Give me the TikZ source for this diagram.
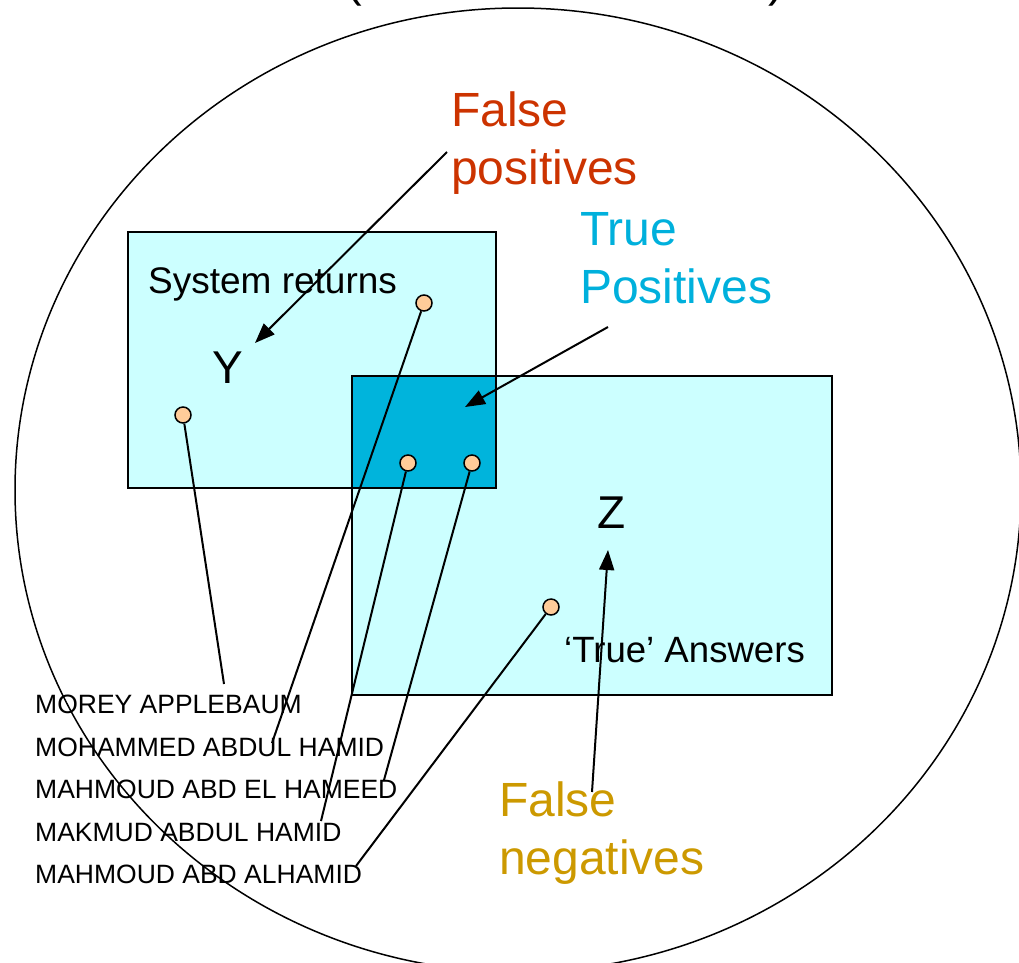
\documentclass[tikz,border=0pt]{standalone}
\usepackage{fontspec}
\setmainfont{Liberation Sans}
\usepackage{xcolor}
\definecolor{fpred}{RGB}{204,51,0}
\definecolor{tpblue}{RGB}{0,176,220}
\definecolor{fngold}{RGB}{204,153,0}
\definecolor{boxlight}{RGB}{204,255,255}
\definecolor{boxdark}{RGB}{0,180,220}
\definecolor{hitfill}{RGB}{255,204,153}
\usetikzlibrary{arrows.meta, positioning}

\begin{document}
\begin{tikzpicture}[x=1pt, y=-1pt,
  setbox/.style={draw=black, line width=2pt},
  hit/.style={circle, draw=black, line width=1.5pt, fill=hitfill,
              minimum size=16pt, inner sep=0pt},
  biglabel/.style={inner sep=0pt, anchor=north west, align=left,
                   font=\fontsize{48}{58}\selectfont, text=#1},
  boxtext/.style={inner sep=0pt, anchor=base west, font=\fontsize{#1}{#1}\selectfont},
  record/.style={inner sep=0pt, anchor=base west, font=\fontsize{26.5}{30}\selectfont},
  wire/.style={draw=black, line width=2pt},
  pointer/.style={-{Triangle[length=20pt, width=15pt]}, line width=2pt, draw=black}
]
\useasboundingbox (0,0) rectangle (1019,962);

% Universe of names
\draw[line width=1.5pt] (518,490) ellipse [x radius=503pt, y radius=482pt];
\node[boxtext=47] (lpar) at (346,-4) {(};
\node[boxtext=47] (rpar) at (768,-4) {)};

% Sets Y and Z
\fill[boxlight] (128,232) rectangle (496,488);
\fill[boxlight] (352,376) rectangle (832,695);
\fill[boxdark] (352,376) rectangle (496,488);
\draw[setbox] (128,232) rectangle (496,488);
\draw[setbox] (352,376) rectangle (832,695);

\node[boxtext=37] (sysret) at (148,293) {System returns};
\node[boxtext=46] (ylab) at (212,383) {Y};
\node[boxtext=46] (zlab) at (597,528) {Z};
\node[boxtext=36.6] (trueans) at (564,662) {‘True’ Answers};

% Labels
\node[biglabel=fpred] (fplab) at (451,92) {False\\positives};
\node[biglabel=tpblue] (tplab) at (580,212) {True\\Positives};
\node[biglabel=fngold] (fnlab) at (499,782) {False\\negatives};

% Returned records
\node[record] (rec1) at (35,713) {MOREY APPLEBAUM};
\node[record] (rec2) at (35,756) {MOHAMMED ABDUL HAMID};
\node[record] (rec3) at (35,798) {MAHMOUD ABD EL HAMEED};
\node[record] (rec4) at (35,841) {MAKMUD ABDUL HAMID};
\node[record] (rec5) at (35,883) {MAHMOUD ABD ALHAMID};

% Hits
\node[hit] (hit1) at (183,415) {};
\node[hit] (hit2) at (424,303) {};
\node[hit] (hit3) at (408,463) {};
\node[hit] (hit4) at (472,463) {};
\node[hit] (hit5) at (551,607) {};

\coordinate (end1) at (224,684);
\coordinate (end2) at (272,743);
\coordinate (end3) at (384,780);
\coordinate (end4) at (321,821);
\coordinate (end5) at (356,866);

\draw[wire] (hit1) -- (end1);
\draw[wire] (hit2) -- (end2);
\draw[wire] (hit4) -- (end3);
\draw[wire] (hit3) -- (end4);
\draw[wire] (hit5) -- (end5);

% Arrows
\coordinate (fpstart) at (447,152);
\coordinate (fptip) at (255,343);
\coordinate (tpstart) at (608,327);
\coordinate (tptip) at (465,407);
\coordinate (fnstart) at (592,792);
\coordinate (fntip) at (608,550);
\draw[pointer] (fpstart) -- (fptip);
\draw[pointer] (tpstart) -- (tptip);
\draw[pointer] (fnstart) -- (fntip);
\end{tikzpicture}
\end{document}
